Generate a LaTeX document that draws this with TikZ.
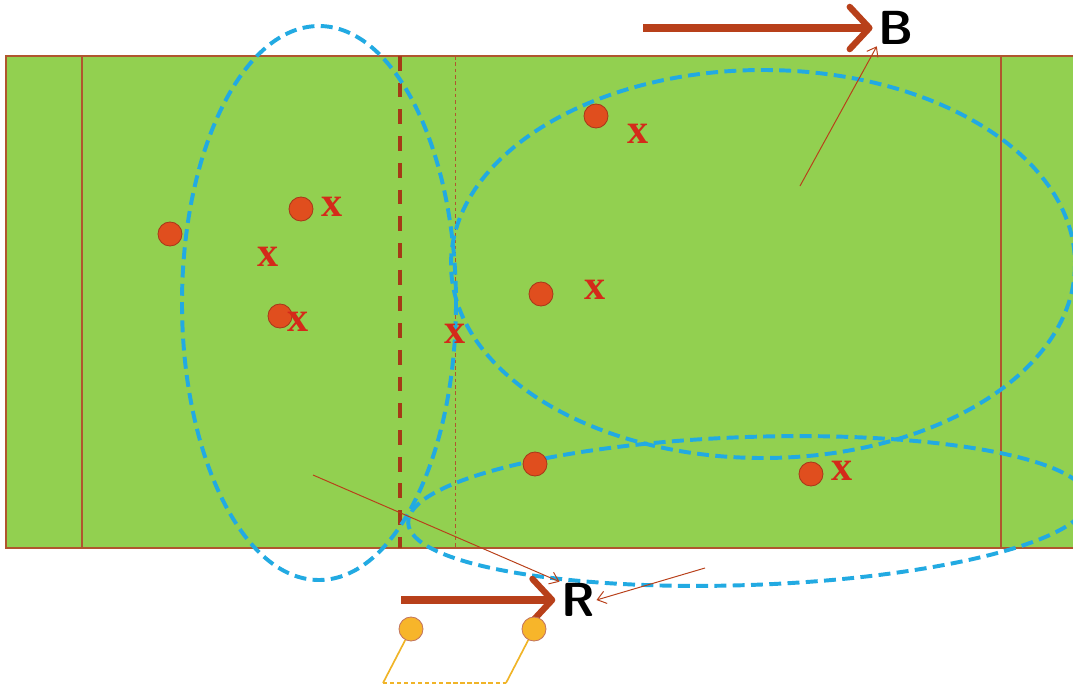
\documentclass[tikz,border=0pt]{standalone}
\usepackage{xcolor}
\usepackage{fontspec}
\usepackage{tikz}
\usetikzlibrary{arrows.meta, positioning}
\newfontfamily\markfont{Liberation Serif}
\definecolor{pgreen}{HTML}{92D050}
\definecolor{plinebrown}{HTML}{B0562E}
\definecolor{parrow}{HTML}{B8401A}
\definecolor{pzone}{HTML}{22AAE2}
\definecolor{pred}{HTML}{E04E1E}
\definecolor{predline}{HTML}{A8381A}
\definecolor{pxred}{HTML}{D42A1A}
\definecolor{pyellow}{HTML}{F7B52A}
\definecolor{pyellowline}{HTML}{F0B428}
\tikzset{
  zone/.style={draw=pzone, line width=2.8pt, dash pattern=on 8.5pt off 4.5pt},
  player/.style={circle, fill=pred, draw=predline, line width=0.6pt, minimum size=0.6cm, inner sep=0pt},
  xmark/.style={text=pxred, font=\markfont\fontsize{30}{30}\selectfont\bfseries, inner sep=0pt},
  ball/.style={circle, fill=pyellow, draw=predline!70, line width=0.6pt, minimum size=0.6cm, inner sep=0pt},
  dirarrow/.style={parrow, line width=5.6pt, -{Straight Barb[length=14pt 0 0, width=30pt 0 0, line width=4.5pt, round]}, shorten >=3pt},
  runarrow/.style={parrow, line width=0.7pt, -{Straight Barb[length=6pt 0 0, width=9pt 0 0, line width=0.7pt]}},
  letter/.style={font=\fontsize{34}{34}\sffamily\bfseries, text=black, inner sep=1pt}
}

\begin{document}
\begin{tikzpicture}[x=0.025cm, y=-0.025cm]
\useasboundingbox (0,0) rectangle (1073,686);
\begin{scope}
\clip (0,0) rectangle (1073,686);
\fill[pgreen] (6,56) rectangle (1090,548);
\draw[plinebrown, line width=1pt] (1090,56) -- (6,56) -- (6,548) -- (1090,548);
\draw[plinebrown, line width=0.9pt] (82,56) -- (82,548);
\draw[plinebrown, line width=0.9pt] (1001,56) -- (1001,548);
\draw[parrow!90!black, line width=3pt, dash pattern=on 10.5pt off 8.5pt] (400,56) -- (400,548);
\draw[plinebrown, line width=0.6pt, dash pattern=on 2.5pt off 2pt] (455,56) -- (455,548);
\draw[zone] (319,303) ellipse [x radius=137, y radius=277];
\draw[zone] (763,264) ellipse [x radius=312, y radius=194];
\draw[zone] (748,511) ellipse [x radius=340, y radius=74, rotate=2];
\end{scope}

\node[player] (p1) at (170,234) {};
\node[player] (p2) at (301,209) {};
\node[player] (p3) at (280,316) {};
\node[player] (p4) at (596,116) {};
\node[player] (p5) at (541,294) {};
\node[player] (p6) at (535,464) {};
\node[player] (p7) at (811,474) {};

\node[xmark] (x1) at (332,207) {x};
\node[xmark] (x2) at (268,257) {x};
\node[xmark] (x3) at (298,322) {x};
\node[xmark] (x4) at (638,134) {x};
\node[xmark] (x5) at (595,290) {x};
\node[xmark] (x6) at (455,334) {x};
\node[xmark] (x7) at (842,471) {x};

\node[letter] (B) at (896,28) {B};
\node[letter] (R) at (578,600) {R};
\coordinate (btail) at (643,28);
\coordinate (rtail) at (401,600);
\coordinate (brun) at (800,186);
\coordinate (rrun1) at (313,475);
\coordinate (rrun2) at (705,568);
\draw[dirarrow] (btail) -- (B.west);
\draw[dirarrow] (rtail) -- (R.west);
\draw[runarrow] (brun) -- (B.south west);
\draw[runarrow] (rrun1) -- (R.north west);
\draw[runarrow] (rrun2) -- (R.east);

\node[ball] (y1) at (411,629) {};
\node[ball] (y2) at (534,629) {};
\coordinate (f1) at (383,683);
\coordinate (f2) at (506,683);
\draw[pyellowline, line width=1.2pt] (y1) -- (f1);
\draw[pyellowline, line width=1.2pt] (y2) -- (f2);
\draw[pyellowline, line width=1pt, dash pattern=on 3pt off 2pt] (f1) -- (f2);
\end{tikzpicture}
\end{document}
